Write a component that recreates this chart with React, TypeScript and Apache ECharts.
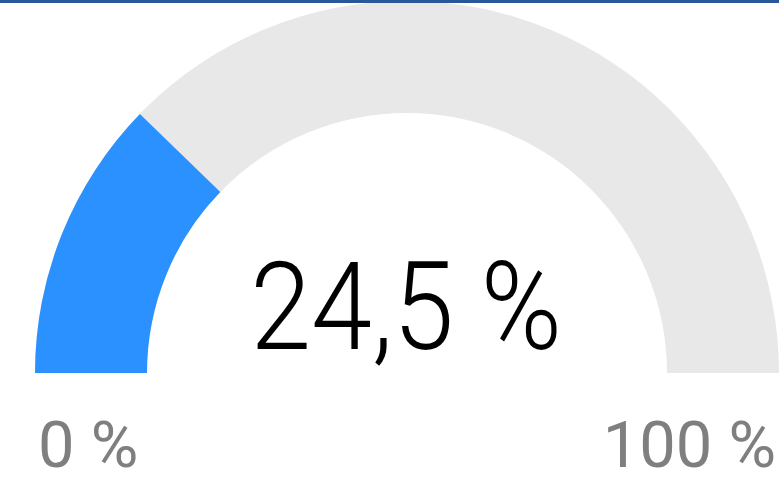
import React, { useEffect, useRef } from "react";
import * as echarts from "echarts";

const value = [24.5];
const valueLabel = "24,5 %";
const minLabel = "0 %";
const maxLabel = "100 %";

export default function App() {
  const ref = useRef<HTMLDivElement>(null);
  useEffect(() => {
    const chart = echarts.init(ref.current!, null, { renderer: "svg" });
    chart.setOption({
      animation: false,
      series: [
        {
          type: "gauge",
          center: [407, 373],
          radius: 372,
          startAngle: 180,
          endAngle: 0,
          min: 0,
          max: 100,
          axisLine: { lineStyle: { width: 112, color: [[1, "#e8e8e8"]] } },
          progress: { show: true, width: 112, roundCap: false, itemStyle: { color: "#2b91ff" } },
          pointer: { show: false },
          axisTick: { show: false },
          splitLine: { show: false },
          axisLabel: { show: false },
          anchor: { show: false },
          title: { show: false },
          detail: { show: false },
          data: [{ value: value[0] }],
        },
      ],
      graphic: [
        { type: "rect", shape: { x: 0, y: 0, width: 779, height: 3 }, style: { fill: "#2a569c" }, z: 10 },
        {
          type: "text",
          x: 406,
          y: 307,
          scaleX: 0.9,
          style: {
            text: valueLabel,
            x: 0,
            y: 0,
            align: "center",
            verticalAlign: "middle",
            fontFamily: "Roboto",
            fontWeight: 300,
            fontSize: 122,
            fill: "#000",
          },
        },
        {
          type: "text",
          x: 38,
          y: 445,
          style: {
            text: minLabel,
            align: "left",
            verticalAlign: "middle",
            fontFamily: "Roboto",
            fontWeight: 400,
            fontSize: 65,
            fill: "#7f7f7f",
          },
        },
        {
          type: "text",
          x: 776,
          y: 445,
          style: {
            text: maxLabel,
            align: "right",
            verticalAlign: "middle",
            fontFamily: "Roboto",
            fontWeight: 400,
            fontSize: 65,
            fill: "#7f7f7f",
          },
        },
      ],
    });
    return () => chart.dispose();
  }, []);
  return (
    <div
      ref={ref}
      style={{ position: "fixed", left: 0, top: 0, width: 779, height: 483, background: "#fff" }}
    />
  );
}
